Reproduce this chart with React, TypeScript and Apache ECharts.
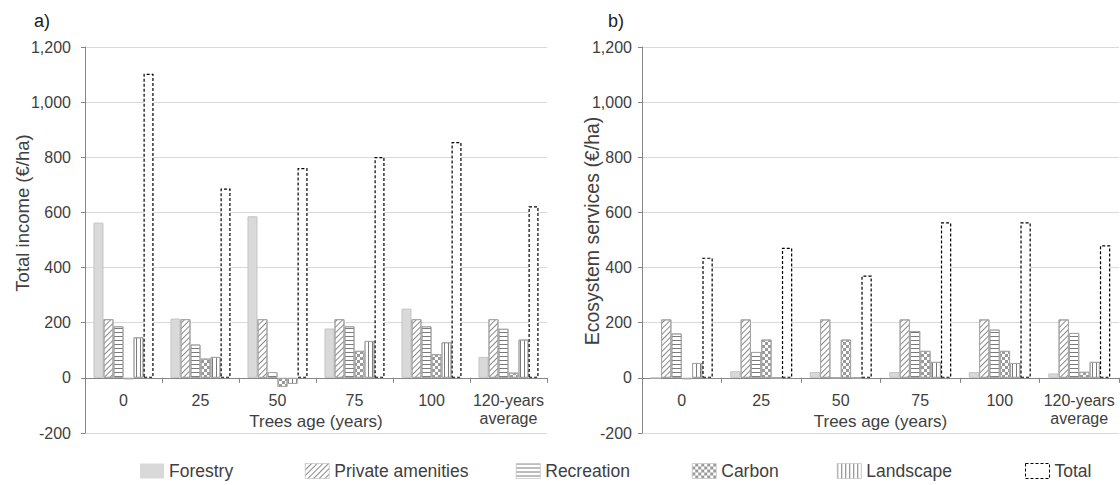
import React, { useEffect, useRef } from "react";
import * as echarts from "echarts";

const categories = ["0", "25", "50", "75", "100", "120-years\naverage"];

// a) Total income (€/ha)
const forestryA = [563, 215, 586, 179, 251, 76];
const privateA = [213, 213, 213, 213, 213, 213];
const recreationA = [187, 121, 21, 187, 187, 178];
const carbonA = [-5, 70, -33, 98, 86, 19];
const landscapeA = [147, 76, -22, 134, 129, 139];
const totalA = [1103, 687, 761, 801, 855, 622];

// b) Ecosystem services (€/ha)
const forestryB = [0, 24, 21, 21, 21, 16];
const privateB = [212, 212, 212, 212, 212, 212];
const recreationB = [161, 94, 0, 170, 175, 163];
const carbonB = [-5, 139, 139, 98, 98, 22];
const landscapeB = [54, 0, 0, 58, 54, 58];
const totalB = [436, 472, 371, 564, 564, 481];

const yTicks = { min: -200, max: 1200, interval: 200 };

const FONT = "'Liberation Sans', Arial, sans-serif";
const TXT = "#404040";
const AXIS = "#868686";
const GRID_H = 386;

const styles: Record<string, any> = {
  Forestry: { color: "#d9d9d9", borderColor: "#c4c4c4", borderWidth: 1 },
  "Private amenities": {
    color: "#ffffff",
    borderColor: "#a6a6a6",
    borderWidth: 1,
    decal: {
      symbol: "rect",
      color: "#8a8a8a",
      backgroundColor: "#ffffff",
      dashArrayX: [1, 0],
      dashArrayY: [0.9, 2.1],
      rotation: -Math.PI / 4,
    },
  },
  Recreation: {
    color: "#ffffff",
    borderColor: "#a6a6a6",
    borderWidth: 1,
    decal: {
      symbol: "rect",
      color: "#7a7a7a",
      backgroundColor: "#ffffff",
      dashArrayX: [1, 0],
      dashArrayY: [1, 2.2],
      rotation: 0,
    },
  },
  Carbon: {
    color: "#ffffff",
    borderColor: "#a6a6a6",
    borderWidth: 1,
    decal: {
      symbol: "rect",
      color: "#9a9a9a",
      backgroundColor: "#ffffff",
      dashArrayX: [[3, 3], [0, 3, 3, 0]],
      dashArrayY: [3, 0],
      rotation: 0,
    },
  },
  Landscape: {
    color: "#ffffff",
    borderColor: "#a6a6a6",
    borderWidth: 1,
    decal: {
      symbol: "rect",
      color: "#7a7a7a",
      backgroundColor: "#ffffff",
      dashArrayX: [1, 2.2],
      dashArrayY: [1, 0],
      rotation: 0,
    },
  },
  Total: {
    color: "#ffffff",
    borderColor: "#000000",
    borderWidth: 1.2,
    borderType: [3, 2],
  },
};

const seriesNames = ["Forestry", "Private amenities", "Recreation", "Carbon", "Landscape", "Total"];
const dataA = [forestryA, privateA, recreationA, carbonA, landscapeA, totalA];
const dataB = [forestryB, privateB, recreationB, carbonB, landscapeB, totalB];

const legendLeft = [135, 300, 511, 687, 832, 1020];

function xAxisCfg(gridIndex: number) {
  // place the category axis on the zero line (0 sits one interval above the bottom)
  const zeroOffset = -(GRID_H * (0 - yTicks.min)) / (yTicks.max - yTicks.min);
  return {
    type: "category",
    gridIndex,
    data: categories,
    position: "bottom",
    offset: zeroOffset,
    name: "Trees age (years)",
    nameLocation: "middle",
    nameGap: 35,
    nameMoveOverlap: false,
    nameTextStyle: { color: TXT, fontSize: 17, fontFamily: FONT, lineHeight: 18 },
    axisLine: { show: true, onZero: false, lineStyle: { color: AXIS, width: 1 } },
    axisTick: { show: true, length: 5, lineStyle: { color: AXIS } },
    axisLabel: {
      interval: 0,
      margin: 14,
      color: TXT,
      fontSize: 16,
      fontFamily: FONT,
      lineHeight: 18,
    },
    splitLine: { show: false },
  };
}

function yAxisCfg(gridIndex: number, margin: number) {
  return {
    type: "value",
    gridIndex,
    min: yTicks.min,
    max: yTicks.max,
    interval: yTicks.interval,
    axisLine: { show: true, onZero: false, lineStyle: { color: AXIS, width: 1 } },
    axisTick: { show: true, length: 4, lineStyle: { color: AXIS } },
    axisLabel: {
      margin,
      color: TXT,
      fontSize: 16,
      fontFamily: FONT,
      formatter: (v: number) => v.toLocaleString("en-US"),
    },
    splitLine: { show: true, lineStyle: { color: "#d9d9d9", width: 1 } },
  };
}

export default function App() {
  const ref = useRef<HTMLDivElement>(null);
  useEffect(() => {
    if (!ref.current) return;
    const chart = echarts.init(ref.current, null, { renderer: "svg" });
    const series: any[] = [];
    [dataA, dataB].forEach((ds, gi) => {
      ds.forEach((d, i) => {
        series.push({
          type: "bar",
          name: seriesNames[i],
          data: d,
          xAxisIndex: gi,
          yAxisIndex: gi,
          barGap: "0%",
          barCategoryGap: "22%",
          itemStyle: styles[seriesNames[i]],
          emphasis: { disabled: true },
        });
      });
    });
    const option: any = {
      animation: false,
      textStyle: { fontFamily: FONT },
      grid: [
        { left: 85, top: 47, width: 462, height: GRID_H, containLabel: false, outerBoundsMode: "none" },
        { left: 642, top: 47, width: 477, height: GRID_H, containLabel: false, outerBoundsMode: "none" },
      ],
      xAxis: [xAxisCfg(0), xAxisCfg(1)],
      yAxis: [yAxisCfg(0, 14), yAxisCfg(1, 10)],
      legend: seriesNames.map((n, i) => ({
        data: [n],
        left: legendLeft[i],
        top: 457,
        orient: "horizontal",
        icon: "rect",
        itemWidth: 24,
        itemHeight: 15,
        selectedMode: false,
        itemStyle:
          n === "Total"
            ? { color: "#ffffff", borderColor: "#000000", borderWidth: 1, borderType: [3, 2] }
            : n === "Forestry"
            ? { borderWidth: 0 }
            : { borderColor: "#c8c8c8", borderWidth: 0.5 },
        textStyle: { color: TXT, fontSize: 17.5, fontFamily: FONT },
      })),
      graphic: [
        {
          type: "text",
          x: 34,
          y: 21,
          style: { text: "a)", fontSize: 18, fontFamily: FONT, fill: "#202020", verticalAlign: "middle" },
        },
        {
          type: "text",
          x: 608,
          y: 21,
          style: { text: "b)", fontSize: 18, fontFamily: FONT, fill: "#202020", verticalAlign: "middle" },
        },
        {
          type: "text",
          x: 22,
          y: 213,
          rotation: Math.PI / 2,
          style: {
            text: "Total income (€/ha)",
            fontSize: 18.5,
            fontFamily: FONT,
            fill: TXT,
            align: "center",
            verticalAlign: "middle",
          },
        },
        {
          type: "text",
          x: 592,
          y: 231,
          rotation: Math.PI / 2,
          style: {
            text: "Ecosystem services (€/ha)",
            fontSize: 19.5,
            fontFamily: FONT,
            fill: TXT,
            align: "center",
            verticalAlign: "middle",
          },
        },
      ],
      series,
    };
    chart.setOption(option);
    return () => chart.dispose();
  }, []);
  return (
    <div
      ref={ref}
      style={{ position: "fixed", left: 0, top: 0, width: 1120, height: 485, background: "#ffffff" }}
    />
  );
}
